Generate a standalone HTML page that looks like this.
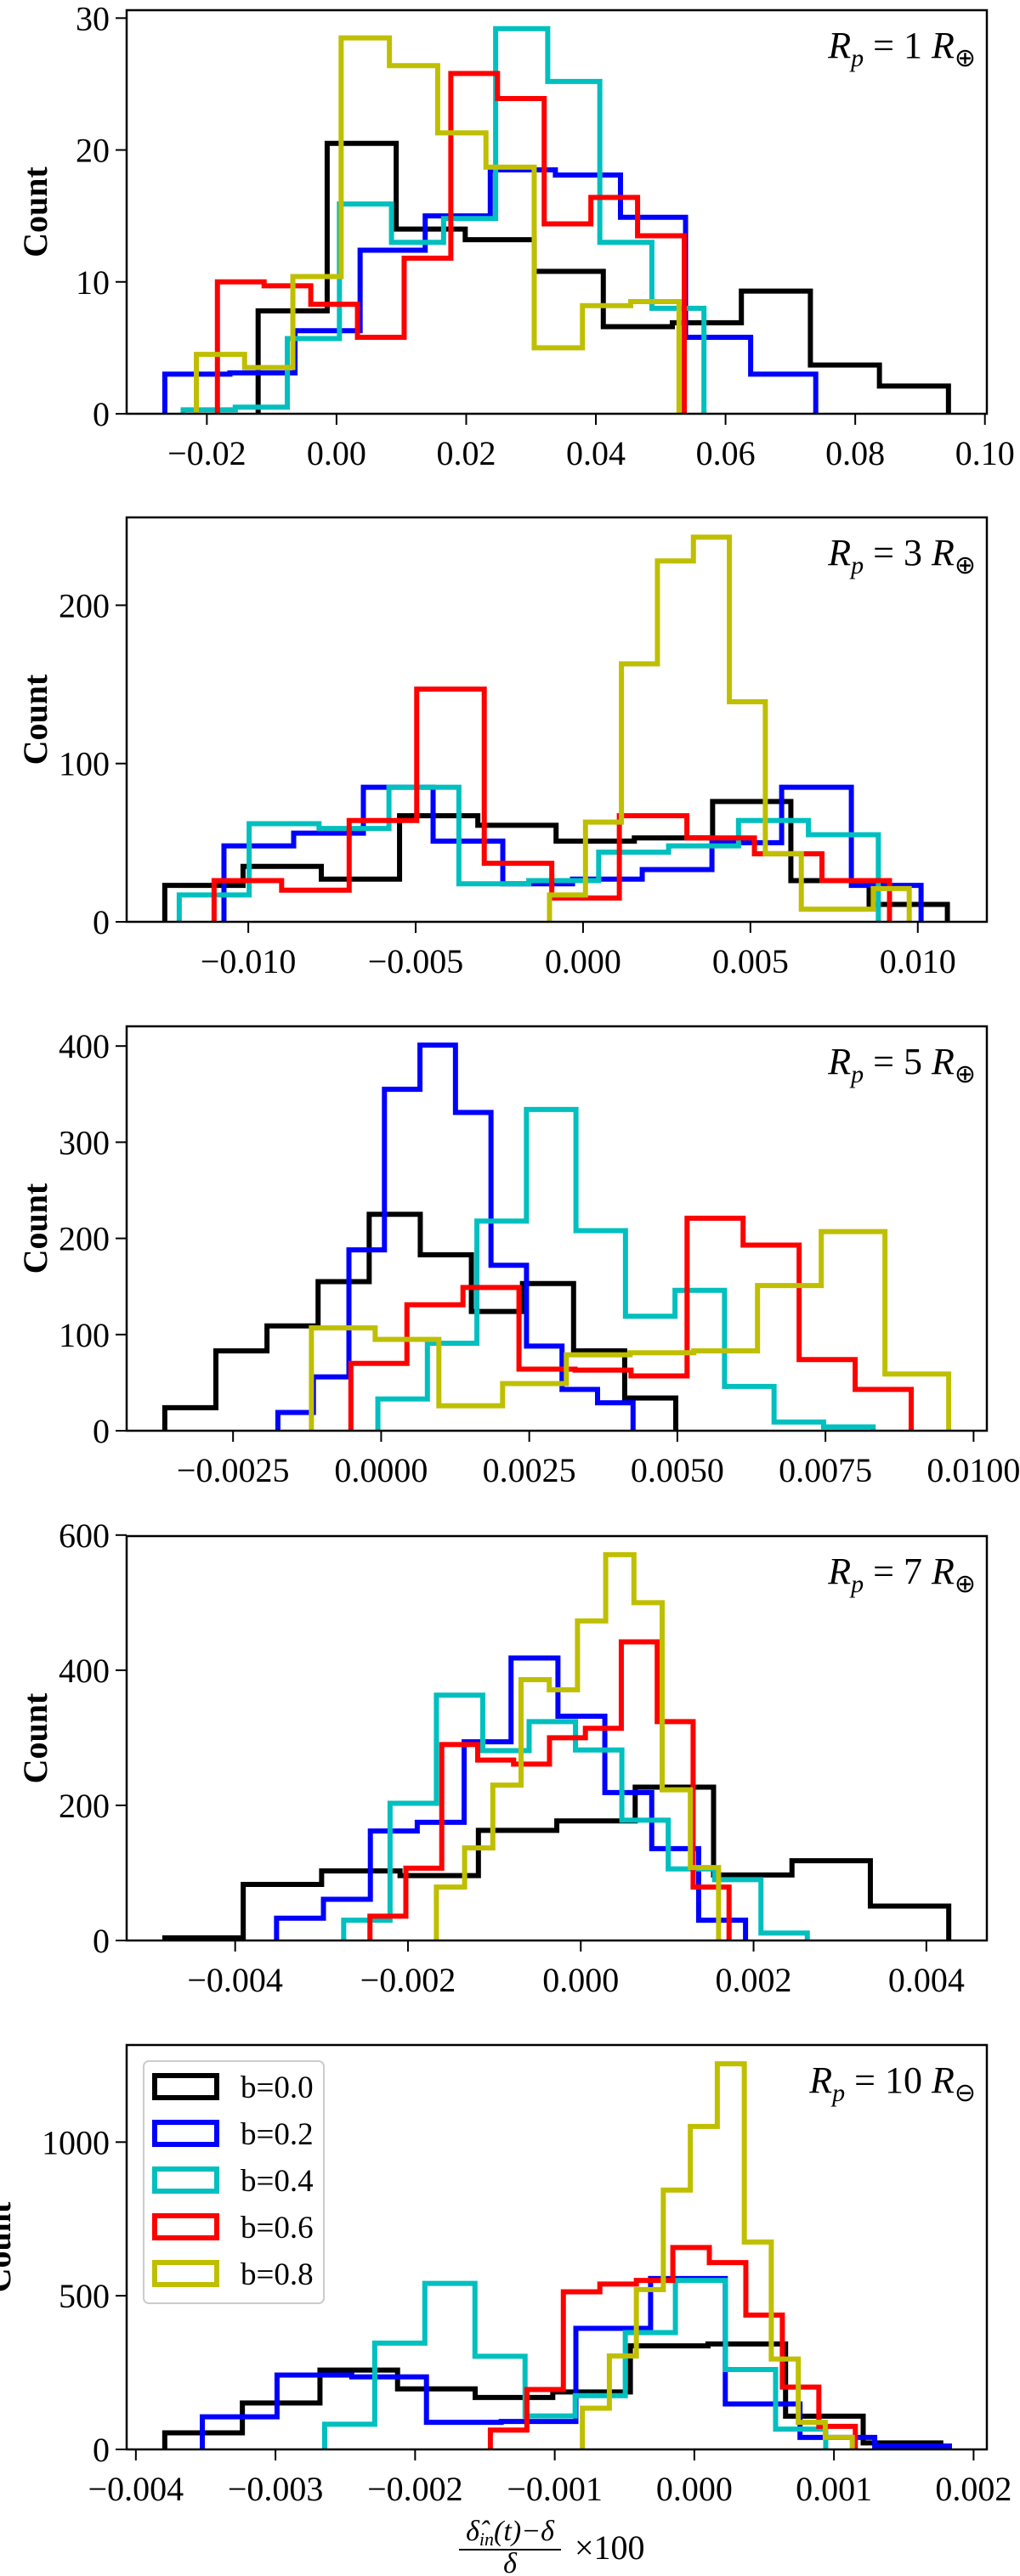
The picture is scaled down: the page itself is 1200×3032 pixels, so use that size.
<!DOCTYPE html>
<html><head><meta charset="utf-8"><style>
html,body{margin:0;padding:0;background:#fff;}
svg{display:block;font-family:"Liberation Serif",serif;}
</style></head><body>
<svg id="fig" width="1200" height="3032" viewBox="0 0 1200 3032" xmlns="http://www.w3.org/2000/svg"></svg>
<script>
// ---- data (per panel) ----
const seriesNames = ["b=0.0","b=0.2","b=0.4","b=0.6","b=0.8"];
const seriesColors = ["#000000","#0000ff","#00bfbf","#ff0000","#bfbf00"];

const p1Start = [-0.01209,-0.02648,-0.02365,-0.01837,-0.02162];
const p1End = [0.09438,0.07391,0.05667,0.05363,0.05282];
const p1Black = [7.8,20.5,14,13.2,10.8,6.6,6.9,9.3,3.7,2.1];
const p1Blue = [3.0,3.1,6.3,12.4,15,18.5,18.1,14.9,5.8,3.0];
const p1Cyan = [0.3,0.5,5.7,15.9,13,14.8,29.2,25.2,13,8.0];
const p1Red = [10,9.7,8.3,5.8,11.8,25.8,23.9,14.4,16.4,13.5];
const p1Yellow = [4.5,3.5,10.4,28.5,26.4,21.3,18.7,5,8.2,8.5];
const p1XTicks = [-0.02,0,0.02,0.04,0.06,0.08,0.10];
const p1XLabels = ["\u22120.02","0.00","0.02","0.04","0.06","0.08","0.10"];
const p1YTicks = [0,10,20,30];
const p1YLabels = ["0","10","20","30"];

const p2Start = [-0.012495,-0.010727,-0.012063,-0.011022,-0.001002];
const p2End = [0.010884,0.010098,0.008821,0.009155,0.009744];
const p2Black = [23,35,27,67,61,51,53,76,26,11];
const p2Blue = [48,56,85,51,24,27,33,50,85,23];
const p2Cyan = [17,62,59,85,24,26,44,48,64,55];
const p2Red = [26,20,64,147,37,15,67,53,43,26];
const p2Yellow = [17,63,163,228,243,139,43,8,8,21];
const p2XTicks = [-0.010,-0.005,0,0.005,0.010];
const p2XLabels = ["\u22120.010","\u22120.005","0.000","0.005","0.010"];
const p2YTicks = [0,100,200];
const p2YLabels = ["0","100","200"];

const p3Start = [-0.003652,-0.001743,-0.0000555,-0.000511,-0.001177];
const p3End = [0.004973,0.004252,0.008304,0.008947,0.00958];
const p3Black = [24,83,109,155,225,183,124,153,83,34];
const p3Blue = [19,56,188,355,401,331,172,88,43,29];
const p3Cyan = [33,91,218,334,208,119,146,46,9,4];
const p3Red = [70,131,149,64,63,57,221,193,74,43];
const p3Yellow = [107,95,26,49,79,81,83,151,207,59];
const p3XTicks = [-0.0025,0,0.0025,0.005,0.0075,0.01];
const p3XLabels = ["\u22120.0025","0.0000","0.0025","0.0050","0.0075","0.0100"];
const p3YTicks = [0,100,200,300,400];
const p3YLabels = ["0","100","200","300","400"];

const p4Start = [-0.004814,-0.003521,-0.002744,-0.00244,-0.001671];
const p4End = [0.004259,0.001907,0.002622,0.001716,0.001595];
const p4Black = [4,83,103,96,163,177,227,97,118,51];
const p4Blue = [33,61,162,175,294,418,332,219,136,30];
const p4Cyan = [30,203,363,281,324,282,178,106,90,11];
const p4Red = [36,107,290,267,261,300,314,442,324,79];
const p4Yellow = [79,137,230,386,371,473,571,500,223,108];
const p4XTicks = [-0.004,-0.002,0,0.002,0.004];
const p4XLabels = ["\u22120.004","\u22120.002","0.000","0.002","0.004"];
const p4YTicks = [0,200,400,600];
const p4YLabels = ["0","200","400","600"];

const p5Start = [-0.003793,-0.003524,-0.002648,-0.001461,-0.000802];
const p5End = [0.001765,0.001827,0.000941,0.001153,0.001131];
const p5Black = [54,151,258,197,169,187,337,343,108,21];
const p5Blue = [106,242,236,88,91,394,556,148,39,11];
const p5Cyan = [82,346,540,303,109,175,380,550,260,66];
const p5Red = [63,195,513,538,550,657,608,437,203,75];
const p5Yellow = [134,304,520,844,1051,1255,675,294,88,39];
const p5XTicks = [-0.004,-0.003,-0.002,-0.001,0,0.001,0.002];
const p5XLabels = ["\u22120.004","\u22120.003","\u22120.002","\u22120.001","0.000","0.001","0.002"];
const p5YTicks = [0,500,1000];
const p5YLabels = ["0","500","1000"];

// ---- layout ----
const NS = "http://www.w3.org/2000/svg";
const svg = document.getElementById("fig");
function mk(tag, attrs, parent){
  const e = document.createElementNS(NS, tag);
  for (const k in attrs) e.setAttribute(k, attrs[k]);
  (parent||svg).appendChild(e);
  return e;
}
const panels = [
  {top:12, bottom:487, xlim:[-0.03237,0.1003], ylim:[0,30.6], start:p1Start, end:p1End,
   series:[p1Black,p1Blue,p1Cyan,p1Red,p1Yellow], xt:p1XTicks, xl:p1XLabels, yt:p1YTicks, yl:p1YLabels, num:"1", sym:"\u2295", lx:55},
  {top:609, bottom:1085, xlim:[-0.013634,0.012063], ylim:[0,255.5], start:p2Start, end:p2End,
   series:[p2Black,p2Blue,p2Cyan,p2Red,p2Yellow], xt:p2XTicks, xl:p2XLabels, yt:p2YTicks, yl:p2YLabels, num:"3", sym:"\u2295", lx:55},
  {top:1208, bottom:1684, xlim:[-0.004296,0.010224], ylim:[0,420.5], start:p3Start, end:p3End,
   series:[p3Black,p3Blue,p3Cyan,p3Red,p3Yellow], xt:p3XTicks, xl:p3XLabels, yt:p3YTicks, yl:p3YLabels, num:"5", sym:"\u2295", lx:55},
  {top:1808, bottom:2284, xlim:[-0.005256,0.0047], ylim:[0,598.5], start:p4Start, end:p4End,
   series:[p4Black,p4Blue,p4Cyan,p4Red,p4Yellow], xt:p4XTicks, xl:p4XLabels, yt:p4YTicks, yl:p4YLabels, num:"7", sym:"\u2295", lx:55},
  {top:2407, bottom:2883, xlim:[-0.004066,0.002095], ylim:[0,1316], start:p5Start, end:p5End,
   series:[p5Black,p5Blue,p5Cyan,p5Red,p5Yellow], xt:p5XTicks, xl:p5XLabels, yt:p5YTicks, yl:p5YLabels, num:"10", sym:"\u2296", lx:12}
];
const L = 149, R = 1161;

panels.forEach((p, pi) => {
  const g = mk("g", {});
  
  
  const sx = v => L + (v - p.xlim[0]) / (p.xlim[1] - p.xlim[0]) * (R - L);
  const sy = v => p.bottom - (v - p.ylim[0]) / (p.ylim[1] - p.ylim[0]) * (p.bottom - p.top);
  const cp = mk("clipPath", {id:"clip"+pi}, g);
  mk("rect", {x:L, y:p.top, width:R-L, height:p.bottom-p.top}, cp);
  const sg = mk("g", {"clip-path":"url(#clip"+pi+")"}, g);
  p.series.forEach((vals, si) => {
    const n = vals.length;
    const w = (p.end[si] - p.start[si]) / n;
    let d = "M" + sx(p.start[si]) + "," + sy(0);
    for (let i = 0; i < n; i++) {
      const x0 = sx(p.start[si] + i*w), x1 = sx(p.start[si] + (i+1)*w);
      d += " L" + x0 + "," + sy(vals[i]) + " L" + x1 + "," + sy(vals[i]);
    }
    d += " L" + sx(p.end[si]) + "," + sy(0);
    const path = mk("path", {d:d, fill:"none", stroke:seriesColors[si], "stroke-width":6, "stroke-linejoin":"miter"}, sg);
    
    
  });
  const frame = mk("rect", {x:L, y:p.top, width:R-L, height:p.bottom-p.top, fill:"none", stroke:"#000", "stroke-width":2.5}, g);
  
  
  p.xt.forEach((t, i) => {
    const x = sx(t);
    mk("line", {x1:x, x2:x, y1:p.bottom, y2:p.bottom+13, stroke:"#000", "stroke-width":2}, g);
    const tx = mk("text", {x:x, y:p.bottom+60, "font-size":40, "text-anchor":"middle"}, g);
    tx.textContent = p.xl[i];
    
    
  });
  p.yt.forEach((t, i) => {
    const y = sy(t);
    mk("line", {x1:L-13, x2:L, y1:y, y2:y, stroke:"#000", "stroke-width":2}, g);
    const tx = mk("text", {x:L-20, y:y+14, "font-size":40, "text-anchor":"end"}, g);
    tx.textContent = p.yl[i];
    
    
  });
  const cy = (p.top + p.bottom) / 2;
  const yl = mk("text", {x:0, y:0, "font-size":40, "font-weight":"bold", "text-anchor":"middle", transform:"translate("+p.lx+","+cy+") rotate(-90)"}, g);
  yl.textContent = "Count";
  
  
  const tt = mk("text", {x:1148, y:p.top+56, "font-size":44, "text-anchor":"end"}, g);
  tt.innerHTML = '<tspan font-style="italic">R</tspan><tspan font-style="italic" font-size="30" dy="10">p</tspan><tspan dy="-10"> = ' + p.num + ' </tspan><tspan font-style="italic">R</tspan><tspan font-size="30" dy="10">' + p.sym + '</tspan>';
  
  
});

// legend in panel 5
const lg = mk("g", {});


mk("rect", {x:169, y:2426, width:212, height:285, rx:6, fill:"#fff", "fill-opacity":0.8, stroke:"#ccc", "stroke-width":2}, lg);
seriesNames.forEach((nm, i) => {
  const cy = 2456 + i*55;
  const e = mk("g", {}, lg);
  
  
  mk("rect", {x:182, y:cy-13, width:73, height:26, fill:"none", stroke:seriesColors[i], "stroke-width":6}, e);
  const t = mk("text", {x:283, y:cy+13, "font-size":37}, e);
  t.textContent = nm;
});

// x-axis title
const xt = mk("g", {});


const num = mk("text", {x:600, y:2990, "font-size":34, "font-style":"italic", "text-anchor":"middle"}, xt);
num.innerHTML = 'δ\u0302<tspan font-size="22" dy="6">in</tspan><tspan dy="-6">(t)−δ</tspan>';
mk("line", {x1:540, x2:660, y1:3001, y2:3001, stroke:"#000", "stroke-width":2}, xt);
const den = mk("text", {x:600, y:3028, "font-size":34, "font-style":"italic", "text-anchor":"middle"}, xt);
den.textContent = "δ";
const mul = mk("text", {x:676, y:3012, "font-size":40}, xt);
mul.textContent = "×100";
</script>
</body></html>
